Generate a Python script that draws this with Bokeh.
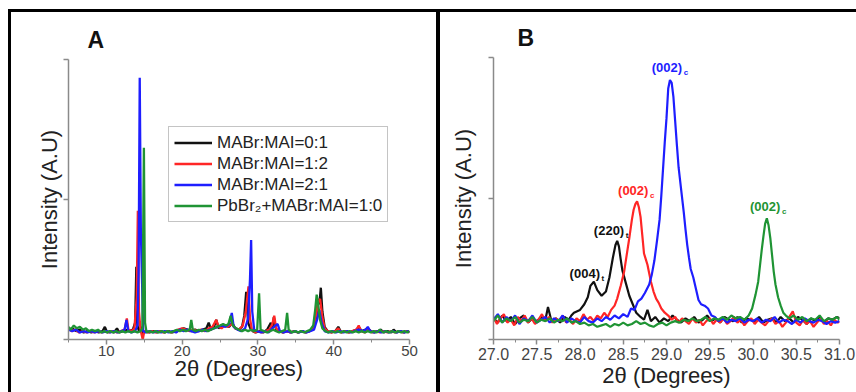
from bokeh.plotting import figure
from bokeh.layouts import row, column
from bokeh.models import FixedTicker, ColumnDataSource
from bokeh.embed import file_html
from bokeh.resources import INLINE

FONT = "Liberation Sans"

# ---------------- data: panel A (wide 2-theta scan) ----------------
A_X_TICKS = [10, 20, 30, 40, 50]
A_X_MINOR = [5, 15, 25, 35, 45]
Y_TICKS = [0, 1, 2]

black_a_x = [5.0, 5.5, 6.0, 6.5, 7.0, 7.5, 8.0, 8.5, 9.0, 9.5, 9.8, 10.1, 10.5, 11.0, 11.4, 11.7, 12.2, 12.6, 13.0, 13.5, 13.8, 13.95, 14.1, 14.3, 14.6, 14.8, 15.2, 15.7, 16.2, 16.7, 17.2, 17.7, 18.2, 18.7, 19.2, 19.7, 20.2, 20.7, 21.2, 21.7, 22.2, 22.7, 23.2, 23.5, 23.8, 24.2, 24.5, 24.8, 25.2, 25.7, 26.2, 26.6, 27.0, 27.5, 27.9, 28.2, 28.45, 28.7, 29.0, 29.3, 29.7, 30.2, 30.7, 31.2, 31.7, 31.9, 32.1, 32.4, 32.8, 33.3, 33.8, 34.3, 34.8, 35.3, 35.8, 36.3, 36.8, 37.3, 37.7, 37.95, 38.1, 38.3, 38.5, 38.8, 39.2, 39.7, 40.2, 40.6, 41.0, 41.5, 42.0, 42.5, 43.0, 43.3, 43.7, 44.2, 44.5, 44.9, 45.4, 45.9, 46.2, 46.6, 47.1, 47.6, 47.9, 48.3, 48.8, 49.3, 49.8, 50.0]
black_a_y = [.07, .08, .06, .07, .05, .06, .05, .06, .05, .06, .09, .05, .06, .05, .08, .05, .06, .07, .06, .07, .12, .52, .10, .06, .09, .04, .06, .05, .06, .05, .06, .05, .06, .05, .06, .07, .08, .07, .06, .07, .06, .07, .08, .12, .07, .09, .14, .08, .09, .10, .09, .12, .08, .07, .09, .17, .34, .12, .08, .06, .05, .06, .05, .07, .12, .08, .16, .07, .06, .05, .06, .05, .06, .05, .06, .05, .06, .08, .15, .29, .25, .37, .20, .09, .06, .05, .06, .09, .05, .06, .05, .06, .07, .09, .06, .07, .08, .06, .05, .06, .07, .05, .06, .05, .07, .05, .06, .05, .06, .05]

red_a_x = [5.0, 5.4, 5.9, 6.4, 6.9, 7.4, 7.9, 8.4, 8.9, 9.4, 9.9, 10.4, 10.9, 11.4, 11.9, 12.4, 12.7, 12.9, 13.3, 13.7, 14.0, 14.15, 14.3, 14.5, 14.8, 15.0, 15.5, 16.0, 16.5, 17.0, 17.5, 18.0, 18.5, 19.0, 19.5, 20.0, 20.5, 21.0, 21.5, 22.0, 22.5, 23.0, 23.5, 24.0, 24.5, 24.8, 25.2, 25.6, 26.0, 26.5, 27.0, 27.5, 28.0, 28.4, 28.75, 28.95, 29.2, 29.6, 30.0, 30.5, 31.0, 31.5, 31.9, 32.15, 32.4, 32.8, 33.3, 33.8, 34.3, 34.8, 35.3, 35.8, 36.3, 36.8, 37.3, 37.7, 37.95, 38.2, 38.5, 38.8, 39.2, 39.7, 40.2, 40.6, 41.0, 41.5, 42.0, 42.5, 43.0, 43.3, 43.6, 44.1, 44.6, 45.1, 45.6, 46.1, 46.6, 47.1, 47.6, 48.1, 48.6, 49.1, 49.6, 50.0]
red_a_y = [.08, .06, .07, .05, .06, .05, .06, .05, .06, .05, .06, .05, .06, .05, .06, .07, .15, .07, .06, .08, .30, .92, .20, .07, .00, .06, .05, .06, .05, .06, .05, .06, .05, .06, .07, .08, .07, .06, .07, .06, .07, .06, .08, .09, .14, .09, .08, .10, .09, .11, .08, .07, .10, .20, .38, .15, .07, .05, .06, .05, .06, .07, .11, .17, .08, .06, .05, .06, .05, .06, .05, .06, .05, .06, .08, .18, .27, .29, .16, .08, .06, .05, .06, .08, .05, .06, .05, .06, .07, .10, .06, .05, .07, .05, .06, .05, .06, .05, .06, .05, .06, .05, .06, .05]

blue_a_x = [5.0, 5.5, 6.0, 6.5, 7.0, 7.5, 8.0, 8.5, 9.0, 9.5, 10.0, 10.5, 11.0, 11.5, 12.0, 12.4, 12.65, 12.9, 13.3, 13.8, 14.1, 14.25, 14.4, 14.55, 14.7, 14.85, 15.2, 15.7, 16.2, 16.7, 17.2, 17.7, 18.2, 18.7, 19.2, 19.7, 20.2, 20.7, 21.2, 21.7, 22.2, 22.7, 23.2, 23.7, 24.2, 24.7, 25.2, 25.7, 26.2, 26.55, 26.8, 27.3, 27.8, 28.3, 28.7, 28.95, 29.1, 29.25, 29.5, 29.9, 30.4, 30.9, 31.4, 31.9, 32.3, 32.6, 32.9, 33.4, 33.9, 34.4, 34.9, 35.4, 35.9, 36.4, 36.9, 37.4, 37.8, 38.1, 38.4, 38.8, 39.3, 39.8, 40.3, 40.8, 41.3, 41.8, 42.3, 42.8, 43.3, 43.8, 44.2, 44.5, 44.8, 45.3, 45.8, 46.3, 46.8, 47.3, 47.8, 48.3, 48.8, 49.3, 49.8, 50.0]
blue_a_y = [.07, .06, .07, .05, .06, .05, .06, .05, .06, .05, .06, .05, .06, .05, .06, .07, .14, .06, .05, .06, .10, .48, 1.87, .77, .43, .06, .05, .06, .05, .06, .05, .06, .05, .06, .05, .07, .06, .07, .06, .05, .06, .07, .06, .07, .08, .09, .10, .09, .11, .19, .09, .07, .06, .08, .15, .43, .71, .20, .07, .06, .05, .06, .05, .08, .10, .11, .06, .05, .06, .05, .06, .05, .06, .05, .06, .07, .14, .21, .12, .06, .05, .06, .05, .06, .05, .06, .05, .06, .07, .06, .07, .09, .06, .05, .06, .05, .06, .05, .06, .05, .06, .05, .06, .05]

green_a_x = [5.0, 5.3, 5.7, 6.1, 6.5, 6.9, 7.3, 7.7, 8.1, 8.5, 8.9, 9.3, 9.7, 10.1, 10.5, 10.9, 11.3, 11.7, 12.1, 12.5, 12.9, 13.3, 13.7, 14.1, 14.5, 14.75, 14.95, 15.1, 15.3, 15.7, 16.1, 16.5, 16.9, 17.3, 17.7, 18.1, 18.5, 18.9, 19.3, 19.7, 20.1, 20.5, 21.0, 21.2, 21.4, 21.8, 22.2, 22.6, 23.0, 23.4, 23.8, 24.2, 24.6, 25.0, 25.4, 25.8, 26.1, 26.4, 26.7, 27.1, 27.5, 27.9, 28.3, 28.7, 29.1, 29.5, 29.9, 30.15, 30.35, 30.8, 31.2, 31.6, 32.0, 32.4, 32.8, 33.2, 33.6, 33.85, 34.05, 34.5, 34.9, 35.3, 35.7, 36.1, 36.5, 36.9, 37.3, 37.55, 37.75, 37.95, 38.2, 38.5, 38.9, 39.3, 39.7, 40.1, 40.5, 40.9, 41.3, 41.7, 42.1, 42.5, 42.9, 43.3, 43.7, 44.1, 44.5, 44.9, 45.3, 45.7, 46.1, 46.5, 46.9, 47.3, 47.7, 48.1, 48.5, 48.9, 49.3, 49.7, 50.0]
green_a_y = [.09, .07, .10, .08, .09, .07, .08, .06, .07, .06, .07, .05, .06, .05, .06, .05, .06, .05, .06, .05, .06, .05, .06, .05, .06, .08, 1.37, .12, .05, .06, .05, .06, .05, .06, .05, .06, .05, .06, .07, .06, .07, .06, .07, .14, .07, .06, .07, .06, .07, .06, .07, .08, .09, .10, .11, .10, .11, .17, .10, .08, .07, .06, .07, .06, .07, .06, .07, .33, .07, .06, .05, .06, .07, .06, .05, .06, .07, .19, .07, .05, .06, .05, .06, .05, .06, .07, .10, .21, .32, .25, .14, .08, .06, .05, .06, .05, .06, .05, .06, .05, .06, .05, .06, .05, .06, .05, .06, .05, .06, .05, .07, .05, .06, .05, .06, .05, .06, .05, .06, .05, .06]

# ---------------- data: panel B (zoom 27-31 deg) ----------------
B_X_TICKS = [27.0, 27.5, 28.0, 28.5, 29.0, 29.5, 30.0, 30.5, 31.0]
B_X_MINOR = [27.25, 27.75, 28.25, 28.75, 29.25, 29.75, 30.25, 30.75]

black_b_x = [27.00, 27.05, 27.10, 27.15, 27.20, 27.25, 27.30, 27.35, 27.40, 27.45, 27.50, 27.55, 27.60, 27.63, 27.67, 27.72, 27.77, 27.82, 27.87, 27.90, 27.93, 28.00, 28.05, 28.09, 28.12, 28.16, 28.20, 28.25, 28.30, 28.34, 28.38, 28.41, 28.43, 28.45, 28.47, 28.49, 28.53, 28.57, 28.61, 28.65, 28.70, 28.74, 28.78, 28.82, 28.87, 28.92, 28.97, 29.02, 29.07, 29.12, 29.17, 29.22, 29.27, 29.32, 29.37, 29.42, 29.47, 29.52, 29.57, 29.62, 29.67, 29.72, 29.77, 29.82, 29.87, 29.92, 29.97, 30.02, 30.07, 30.12, 30.17, 30.22, 30.27, 30.32, 30.37, 30.42, 30.47, 30.52, 30.57, 30.62, 30.67, 30.72, 30.77, 30.82, 30.87, 30.92, 30.97, 31.00]
black_b_y = [.15, .12, .17, .13, .16, .11, .15, .17, .12, .15, .13, .16, .14, .23, .13, .15, .12, .16, .14, .17, .19, .21, .25, .30, .38, .41, .35, .31, .34, .44, .58, .67, .70, .66, .57, .49, .40, .31, .25, .19, .16, .14, .21, .13, .16, .12, .15, .13, .17, .14, .12, .15, .13, .16, .12, .14, .17, .13, .15, .12, .16, .14, .13, .16, .12, .15, .14, .13, .16, .12, .14, .15, .12, .16, .13, .15, .12, .16, .14, .11, .15, .13, .16, .12, .15, .14, .16, .15]

red_b_x = [27.00, 27.04, 27.08, 27.12, 27.16, 27.20, 27.24, 27.28, 27.32, 27.36, 27.40, 27.44, 27.48, 27.52, 27.56, 27.60, 27.64, 27.68, 27.72, 27.76, 27.80, 27.84, 27.88, 27.92, 27.96, 28.00, 28.04, 28.08, 28.12, 28.16, 28.20, 28.24, 28.28, 28.32, 28.36, 28.40, 28.43, 28.47, 28.51, 28.54, 28.57, 28.60, 28.62, 28.64, 28.66, 28.68, 28.70, 28.72, 28.74, 28.76, 28.78, 28.80, 28.82, 28.85, 28.88, 28.91, 28.94, 28.98, 29.02, 29.06, 29.10, 29.14, 29.18, 29.22, 29.26, 29.30, 29.34, 29.38, 29.42, 29.46, 29.50, 29.54, 29.58, 29.62, 29.66, 29.70, 29.74, 29.78, 29.82, 29.86, 29.90, 29.94, 29.98, 30.02, 30.06, 30.10, 30.14, 30.18, 30.22, 30.26, 30.30, 30.34, 30.38, 30.42, 30.46, 30.50, 30.54, 30.58, 30.62, 30.66, 30.70, 30.74, 30.78, 30.82, 30.86, 30.90, 30.94, 30.98, 31.00]
red_b_y = [.16, .11, .15, .18, .12, .14, .10, .16, .13, .17, .12, .15, .11, .14, .18, .13, .16, .12, .15, .13, .17, .12, .14, .11, .15, .13, .18, .14, .16, .13, .17, .15, .19, .16, .21, .24, .29, .38, .48, .60, .72, .85, .92, .96, .98, .94, .87, .74, .61, .57, .53, .47, .41, .34, .29, .26, .22, .19, .17, .14, .16, .12, .15, .13, .11, .15, .12, .14, .10, .13, .15, .11, .14, .12, .15, .11, .13, .16, .12, .14, .10, .13, .15, .11, .14, .12, .10, .13, .15, .11, .13, .09, .12, .16, .20, .12, .10, .14, .11, .13, .09, .12, .15, .11, .13, .10, .14, .12, .13]

blue_b_x = [27.00, 27.05, 27.10, 27.15, 27.20, 27.25, 27.30, 27.35, 27.40, 27.45, 27.50, 27.55, 27.60, 27.65, 27.70, 27.75, 27.80, 27.85, 27.90, 27.95, 28.00, 28.05, 28.10, 28.15, 28.20, 28.25, 28.30, 28.35, 28.40, 28.45, 28.50, 28.55, 28.59, 28.63, 28.67, 28.71, 28.75, 28.80, 28.83, 28.86, 28.89, 28.92, 28.94, 28.96, 28.98, 29.00, 29.02, 29.04, 29.06, 29.08, 29.10, 29.12, 29.14, 29.17, 29.20, 29.22, 29.24, 29.26, 29.28, 29.31, 29.34, 29.37, 29.40, 29.44, 29.48, 29.52, 29.56, 29.60, 29.65, 29.70, 29.75, 29.80, 29.85, 29.90, 29.95, 30.00, 30.05, 30.10, 30.15, 30.20, 30.25, 30.30, 30.35, 30.40, 30.45, 30.50, 30.55, 30.60, 30.65, 30.70, 30.75, 30.80, 30.85, 30.90, 30.95, 31.00]
blue_b_y = [.14, .18, .12, .16, .13, .17, .11, .15, .13, .17, .12, .14, .16, .12, .15, .13, .17, .12, .15, .13, .12, .16, .13, .12, .15, .13, .16, .14, .17, .15, .18, .16, .22, .21, .27, .29, .33, .39, .46, .56, .70, .85, 1.02, 1.21, 1.40, 1.57, 1.78, 1.84, 1.82, 1.72, 1.55, 1.38, 1.22, 1.06, .90, .78, .67, .58, .50, .44, .36, .28, .25, .24, .22, .17, .16, .13, .15, .12, .14, .13, .15, .12, .14, .13, .15, .12, .14, .13, .16, .12, .14, .13, .11, .14, .12, .15, .13, .12, .14, .13, .11, .13, .12, .13]

green_b_x = [27.00, 27.05, 27.10, 27.15, 27.20, 27.25, 27.30, 27.35, 27.40, 27.45, 27.50, 27.55, 27.60, 27.65, 27.70, 27.75, 27.80, 27.85, 27.90, 27.95, 28.00, 28.05, 28.10, 28.15, 28.20, 28.25, 28.30, 28.35, 28.40, 28.45, 28.50, 28.55, 28.60, 28.65, 28.70, 28.75, 28.80, 28.85, 28.90, 28.95, 29.00, 29.05, 29.10, 29.15, 29.20, 29.25, 29.30, 29.35, 29.40, 29.45, 29.50, 29.55, 29.60, 29.65, 29.70, 29.75, 29.80, 29.85, 29.90, 29.95, 29.99, 30.03, 30.06, 30.08, 30.10, 30.12, 30.14, 30.16, 30.18, 30.20, 30.22, 30.24, 30.26, 30.29, 30.32, 30.35, 30.38, 30.42, 30.47, 30.52, 30.57, 30.62, 30.67, 30.72, 30.77, 30.82, 30.87, 30.92, 30.97, 31.00]
green_b_y = [.13, .17, .12, .15, .13, .16, .12, .14, .13, .16, .12, .14, .13, .15, .12, .14, .13, .15, .12, .13, .11, .12, .10, .11, .09, .10, .11, .09, .11, .10, .12, .10, .11, .13, .11, .12, .10, .09, .11, .12, .10, .12, .13, .12, .14, .13, .15, .13, .14, .16, .13, .15, .14, .16, .14, .17, .15, .16, .14, .17, .22, .32, .41, .52, .63, .73, .82, .86, .81, .72, .60, .48, .39, .30, .24, .19, .17, .15, .17, .14, .16, .13, .15, .14, .17, .13, .15, .14, .16, .14]

SERIES_NAMES = ["MABr:MAI=0:1", "MABr:MAI=1:2", "MABr:MAI=2:1", "PbBr\u2082+MABr:MAI=1:0"]
SERIES_COLORS = ["#111111", "#ff2626", "#1e1eff", "#1f9434"]

# peak annotations (panel B): text, subscript, anchor x, anchor y, colour index
PEAK_TEXT = ["(002)", "(002)", "(002)", "(220)", "(004)"]
PEAK_SUB = ["c", "c", "c", "t", "t"]
PEAK_X = [28.83, 28.44, 29.965, 28.16, 27.88]
PEAK_Y = [1.93, 1.06, 0.94, 0.775, 0.47]
PEAK_COLOR_IDX = [2, 1, 3, 0, 0]

W_A, W_B, H = 430, 418, 383


def style(p, xticks, xminor, label_size, y_label_standoff):
    p.xgrid.visible = False
    p.ygrid.visible = False
    p.outline_line_color = None
    p.background_fill_color = "white"
    p.border_fill_color = "white"
    p.xaxis.ticker = FixedTicker(ticks=xticks, minor_ticks=xminor)
    p.yaxis.ticker = FixedTicker(ticks=Y_TICKS, minor_ticks=[])
    p.yaxis.major_label_overrides = {t: "" for t in Y_TICKS}
    for ax in (p.xaxis, p.yaxis):
        ax.axis_line_color = "#8a8a8a"
        ax.axis_line_width = 1.5
        ax.major_tick_line_color = "#8a8a8a"
        ax.minor_tick_line_color = "#8a8a8a"
        ax.major_tick_line_width = 1.5
        ax.major_tick_in = 0
        ax.major_tick_out = 5
        ax.minor_tick_in = 0
        ax.minor_tick_out = 3
        ax.axis_label_text_font = FONT
        ax.axis_label_text_font_style = "normal"
        ax.axis_label_text_font_size = "22px"
        ax.axis_label_text_color = "#222222"
        ax.major_label_text_font = FONT
        ax.major_label_text_font_size = label_size
        ax.major_label_text_color = "#444444"
    p.yaxis.major_label_standoff = 0
    p.yaxis.axis_label_standoff = y_label_standoff
    p.title.text_font = FONT
    p.title.text_font_size = "23px"
    p.title.text_font_style = "bold"
    p.title.text_color = "#111111"
    p.title.align = "left"


# ---------------- panel A ----------------
pa = figure(width=W_A, height=H, x_range=(5, 50), y_range=(0, 2),
            output_backend="svg", toolbar_location=None, title="A",
            x_axis_label="2\u03b8 (Degrees)", y_axis_label="Intensity (A.U)",
            min_border_left=57, min_border_right=32, min_border_top=47, min_border_bottom=56,
            styles={"border-top": "3px solid black", "border-left": "3px solid black",
                    "border-right": "2px solid black", "margin-left": "8px", "margin-top": "9px"})
style(pa, A_X_TICKS, A_X_MINOR, "15px", 2)
pa.xaxis.major_label_standoff = 1
pa.xaxis.axis_label_standoff = -3
pa.title.offset = 19
pa.title.standoff = 14

for xs, ys, name, col in zip([black_a_x, red_a_x, blue_a_x, green_a_x],
                             [black_a_y, red_a_y, blue_a_y, green_a_y],
                             SERIES_NAMES, SERIES_COLORS):
    pa.line(xs, ys, line_color=col, line_width=2.3, legend_label=name)

lg = pa.legend[0]
lg.location = (100, 117)
lg.label_text_font = FONT
lg.label_text_font_size = "17px"
lg.label_text_color = "#222222"
lg.glyph_width = 38
lg.glyph_height = 21
lg.label_height = 21
lg.label_standoff = 5
lg.spacing = 0
lg.padding = 5
lg.margin = 0
lg.border_line_color = "#8a8a8a"
lg.border_line_width = 1.5
lg.background_fill_alpha = 1.0

# ---------------- panel B ----------------
pb = figure(width=W_B, height=H, x_range=(27, 31), y_range=(0, 2),
            output_backend="svg", toolbar_location=None, title="B",
            x_axis_label="2\u03b8 (Degrees)", y_axis_label="Intensity (A.U)",
            min_border_left=53, min_border_right=19, min_border_top=45, min_border_bottom=56,
            styles={"border-top": "3px solid black", "border-left": "2px solid black",
                    "margin-top": "9px"})
style(pb, B_X_TICKS, B_X_MINOR, "16px", 13)
pb.xaxis.major_label_standoff = 3
pb.xaxis.axis_label_standoff = 0
pb.xaxis.major_label_overrides = {t: f"{t:.1f}" for t in B_X_TICKS}
pb.title.offset = 24
pb.title.standoff = 13

for xs, ys, col in zip([black_b_x, red_b_x, blue_b_x, green_b_x],
                       [black_b_y, red_b_y, blue_b_y, green_b_y],
                       SERIES_COLORS):
    pb.line(xs, ys, line_color=col, line_width=2.2)

lab = ColumnDataSource(dict(x=PEAK_X, y=PEAK_Y, t=PEAK_TEXT, s=PEAK_SUB,
                            c=[SERIES_COLORS[i] for i in PEAK_COLOR_IDX]))
pb.text(x="x", y="y", text="t", text_color="c", source=lab,
        text_font={"value": FONT}, text_font_size="13px", text_font_style="bold",
        text_align="left", text_baseline="middle")
pb.text(x="x", y="y", text="s", text_color="c", source=lab, x_offset=32, y_offset=5,
        text_font={"value": FONT}, text_font_size="8px", text_font_style="bold",
        text_align="left", text_baseline="middle")

layout = row(column(pa), column(pb), spacing=0)
open("out.html", "w").write(file_html(layout, INLINE))
